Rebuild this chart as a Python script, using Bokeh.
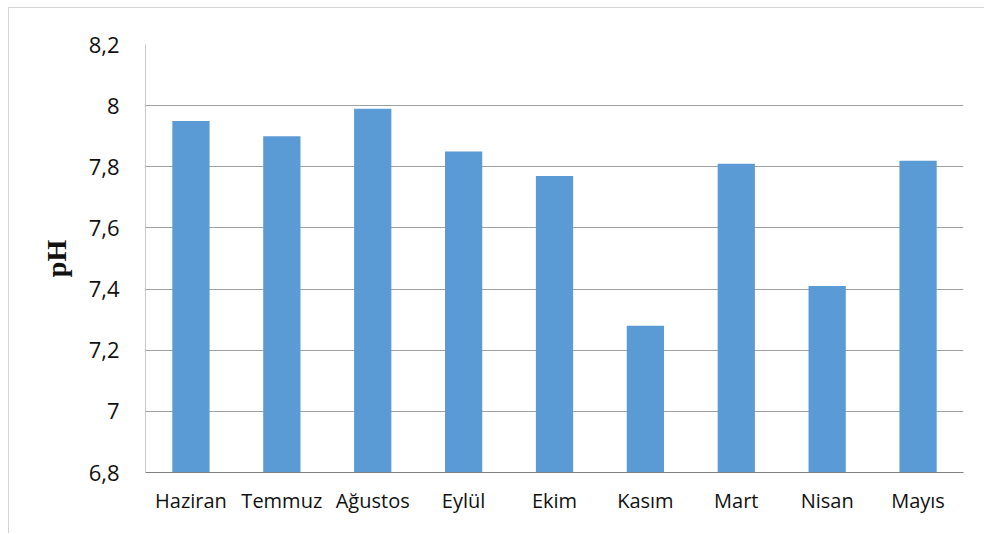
from bokeh.plotting import figure
from bokeh.models import FixedTicker, ColumnDataSource
from bokeh.embed import file_html
from bokeh.resources import INLINE

months = ["Haziran", "Temmuz", "Ağustos", "Eylül", "Ekim", "Kasım", "Mart", "Nisan", "Mayıs"]
ph_values = [7.95, 7.90, 7.99, 7.85, 7.77, 7.28, 7.81, 7.41, 7.82]
y_ticks = [6.8, 7.0, 7.2, 7.4, 7.6, 7.8, 8.0, 8.2]
y_tick_labels = ["6,8", "7", "7,2", "7,4", "7,6", "7,8", "8", "8,2"]

src = ColumnDataSource(dict(x=months, top=ph_values))

p = figure(x_range=months, y_range=(6.8, 8.2), width=976, height=526,
           output_backend="svg", toolbar_location=None,
           min_border_left=136, min_border_top=36, min_border_right=22, min_border_bottom=62,
           styles={"border-left": "1px solid #d4d4d4", "border-top": "1px solid #d4d4d4",
                   "margin-left": "8px", "margin-top": "7px"})
p.x_range.range_padding = 0
p.vbar(x="x", top="top", bottom=6.8, width=0.41, source=src,
       fill_color="#5B9BD5", line_color=None)

p.outline_line_color = None
p.background_fill_color = "white"
p.border_fill_color = "white"

p.xgrid.grid_line_color = None
p.ygrid.grid_line_color = "#a0a0a0"
p.ygrid.grid_line_width = 1
p.yaxis.ticker = FixedTicker(ticks=y_ticks)
p.yaxis.major_label_overrides = {t: l for t, l in zip(y_ticks, y_tick_labels)}
p.yaxis.axis_line_color = "#c8c8c8"
p.yaxis.major_tick_line_color = None
p.yaxis.minor_tick_line_color = None
p.yaxis.major_label_text_font = "Open Sans"
p.yaxis.major_label_text_font_size = "22px"
p.yaxis.major_label_text_color = "#111111"
p.yaxis.major_label_standoff = 20
p.yaxis.axis_label = "pH"
p.yaxis.axis_label_text_font = "Liberation Serif"
p.yaxis.axis_label_text_font_style = "bold"
p.yaxis.axis_label_text_font_size = "28px"
p.yaxis.axis_label_text_color = "#111111"
p.yaxis.axis_label_standoff = 14

p.xaxis.axis_line_color = "#808080"
p.xaxis.major_tick_line_color = None
p.xaxis.minor_tick_line_color = None
p.xaxis.major_label_text_font = "Open Sans"
p.xaxis.major_label_text_font_size = "20px"
p.xaxis.major_label_text_color = "#111111"
p.xaxis.major_label_standoff = 8

open("out.html", "w").write(file_html(p, INLINE))
